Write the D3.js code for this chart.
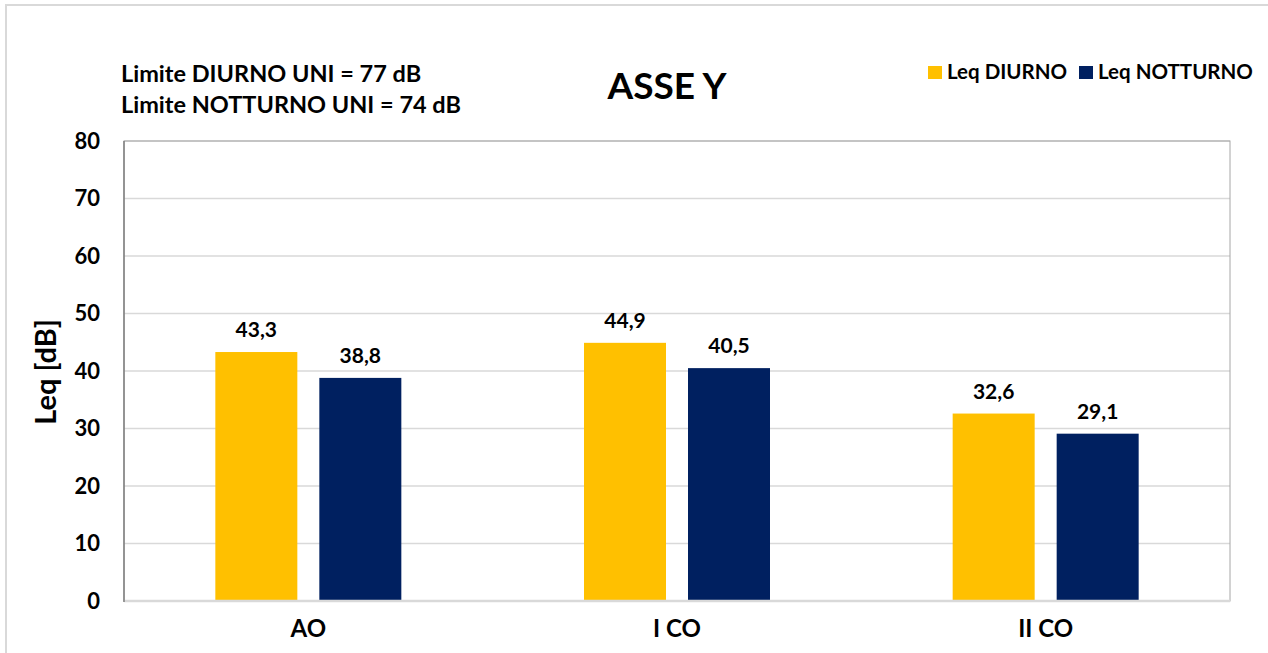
<!DOCTYPE html>
<html>
<head>
<meta charset="utf-8">
<script src="https://cdn.jsdelivr.net/npm/d3@7"></script>
<style>
  html, body { margin: 0; padding: 0; background: #fff; }
  svg { display: block; }
  text { font-family: Lato, "Open Sans", sans-serif; font-weight: bold; fill: #000; }
</style>
</head>
<body>
<svg id="chart" width="1268" height="653"></svg>
<script>
// Sound level measurements per position
const categories = ["AO", "I CO", "II CO"];
const seriesNames = ["Leq DIURNO", "Leq NOTTURNO"];
const diurno = [43.3, 44.9, 32.6];
const notturno = [38.8, 40.5, 29.1];
const yTicks = [0, 10, 20, 30, 40, 50, 60, 70, 80];
const limitLines = ["Limite DIURNO UNI = 77 dB", "Limite NOTTURNO UNI = 74 dB"];
const colors = ["#FFC000", "#002060"];

const seriesValues = [diurno, notturno];
const rows = categories.map((c, i) => ({ cat: c, vals: seriesValues.map(s => s[i]) }));

const svg = d3.select("#chart");
const plot = { left: 124, right: 1230, top: 141, bottom: 601 };

// chart frame (top and left edges visible)
svg.append("line").attr("x1", 5).attr("x2", 1268).attr("y1", 5).attr("y2", 5)
  .attr("stroke", "#d9d9d9").attr("stroke-width", 2);
svg.append("line").attr("x1", 6).attr("x2", 6).attr("y1", 5).attr("y2", 653)
  .attr("stroke", "#d9d9d9").attr("stroke-width", 2);

const y = d3.scaleLinear().domain([0, 80]).range([plot.bottom, plot.top]);
const x0 = d3.scaleBand().domain(categories).range([plot.left, plot.right]).padding(0);
const groupW = 186;
const x1 = d3.scaleBand().domain(seriesNames).range([0, groupW]).paddingInner(22 / 104).paddingOuter(0);
const groupOffset = (x0.bandwidth() - groupW) / 2;

// gridlines
svg.append("g")
  .selectAll("line").data(yTicks.filter(t => t > 0)).join("line")
  .attr("x1", plot.left).attr("x2", plot.right)
  .attr("y1", d => y(d)).attr("y2", d => y(d))
  .attr("stroke", "#d9d9d9").attr("stroke-width", 1.5);

// plot area border
svg.append("rect")
  .attr("x", plot.left).attr("y", plot.top)
  .attr("width", plot.right - plot.left).attr("height", plot.bottom - plot.top)
  .attr("fill", "none").attr("stroke", "#a6a6a6").attr("stroke-width", 1);

// bars
const groups = svg.append("g").selectAll("g").data(rows).join("g")
  .attr("transform", d => `translate(${x0(d.cat) + groupOffset},0)`);
groups.selectAll("rect").data(d => d.vals.map((v, i) => ({ name: seriesNames[i], v, i }))).join("rect")
  .attr("x", d => x1(d.name))
  .attr("y", d => y(d.v))
  .attr("width", x1.bandwidth())
  .attr("height", d => y(0) - y(d.v))
  .attr("fill", d => colors[d.i]);
groups.selectAll("text").data(d => d.vals.map((v, i) => ({ name: seriesNames[i], v, i }))).join("text")
  .attr("x", d => x1(d.name) + x1.bandwidth() / 2)
  .attr("y", d => y(d.v) - 15)
  .attr("text-anchor", "middle")
  .attr("font-size", 21)
  .text(d => d3.format(".1f")(d.v).replace(".", ","));

// baseline (category axis)
svg.append("line").attr("x1", plot.left).attr("x2", plot.right)
  .attr("y1", plot.bottom).attr("y2", plot.bottom)
  .attr("stroke", "#d9d9d9").attr("stroke-width", 2.5);
// value axis line
svg.append("line").attr("x1", plot.left).attr("x2", plot.left)
  .attr("y1", plot.top).attr("y2", plot.bottom + 1)
  .attr("stroke", "#7f7f7f").attr("stroke-width", 1.5);

// y axis
const yAxis = d3.axisLeft(y).tickValues(yTicks).tickSize(0).tickPadding(24);
const gy = svg.append("g").attr("transform", `translate(${plot.left},0)`).call(yAxis);
gy.select(".domain").remove();
gy.selectAll("text").attr("font-size", 22).style("font-family", "Lato, sans-serif").style("font-weight", "bold").attr("fill", "#000");

// x axis
const xAxis = d3.axisBottom(x0).tickSize(0);
const gx = svg.append("g").attr("transform", `translate(0,${plot.bottom})`).call(xAxis);
gx.select(".domain").remove();
gx.selectAll("text").attr("y", 36).attr("dy", 0).attr("font-size", 24)
  .style("font-family", "Lato, sans-serif").style("font-weight", "bold").attr("fill", "#000");

// y axis title
svg.append("text")
  .attr("transform", "translate(56,372) rotate(-90)")
  .attr("text-anchor", "middle")
  .attr("font-size", 29)
  .text("Leq [dB]");

// chart title
svg.append("text")
  .attr("x", 667).attr("y", 99)
  .attr("text-anchor", "middle")
  .attr("font-size", 37)
  .text("ASSE Y");

// limit notes
svg.append("g").selectAll("text").data(limitLines).join("text")
  .attr("x", 121).attr("y", (d, i) => 82 + i * 31)
  .attr("font-size", 23.5)
  .text(d => d);

// legend
const legendX = [928, 1079];
const legend = svg.append("g").selectAll("g").data(seriesNames).join("g")
  .attr("transform", (d, i) => `translate(${legendX[i]},66)`);
legend.append("rect").attr("width", 14).attr("height", 13).attr("fill", (d, i) => colors[i]);
legend.append("text").attr("x", 19).attr("y", 13).attr("font-size", 20.5).text(d => d);
</script>
</body>
</html>
